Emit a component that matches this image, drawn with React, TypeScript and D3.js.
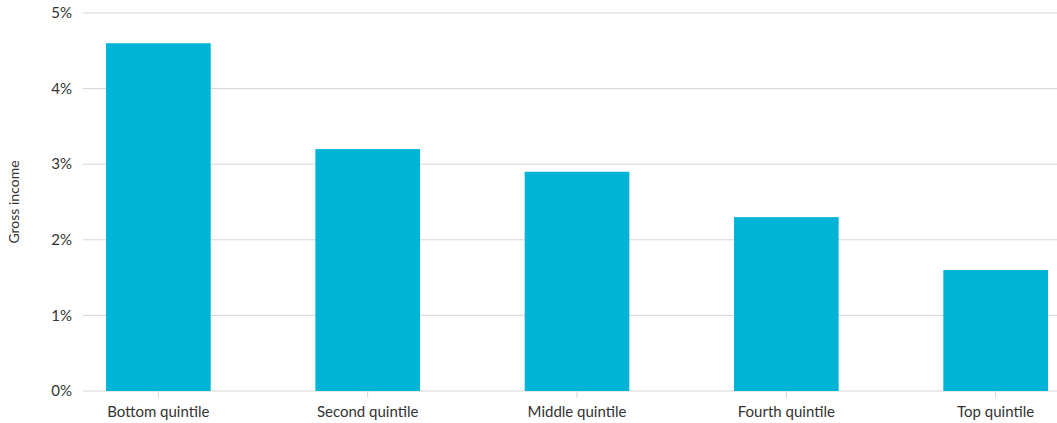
import React from "react";
import * as d3 from "d3";

const categories = ["Bottom quintile", "Second quintile", "Middle quintile", "Fourth quintile", "Top quintile"];
const values = [4.6, 3.2, 2.9, 2.3, 1.6];
const yTicks = [0, 1, 2, 3, 4, 5];
const yLabel = "Gross income";

const W = 1057;
const H = 423;
const FONT = "Lato, 'Open Sans', sans-serif";

export default function App() {
  const x = d3.scaleBand<string>().domain(categories).range([83, 1071]).paddingInner(0.5).paddingOuter(0.11);
  const y = d3.scaleLinear().domain([0, 5]).range([391, 13]);
  return (
    <svg width={W} height={H} style={{ position: "absolute", left: 0, top: 0, fontFamily: FONT }}>
      {yTicks.map((t) => (
        <g key={t}>
          <line x1={83} x2={W} y1={y(t)} y2={y(t)} stroke="#d6d6d6" strokeWidth={1} />
          <text x={72} y={y(t)} dy="0.35em" textAnchor="end" fontSize={15} fill="#333">{t}%</text>
        </g>
      ))}
      {categories.map((c, i) => (
        <rect key={c} x={x(c)} y={y(values[i])} width={x.bandwidth()} height={y(0) - y(values[i])} fill="#00b4d8" />
      ))}
      {categories.map((c) => {
        const cx = (x(c) as number) + x.bandwidth() / 2;
        return (
          <g key={c + "t"}>
            <line x1={cx} x2={cx} y1={391} y2={398} stroke="#d6d6d6" />
            <text x={cx} y={417} textAnchor="middle" fontSize={15} fill="#333">{c}</text>
          </g>
        );
      })}
      <text transform={`translate(19,${y(2.5)}) rotate(-90)`} textAnchor="middle" fontSize={14} fill="#333">{yLabel}</text>
    </svg>
  );
}
